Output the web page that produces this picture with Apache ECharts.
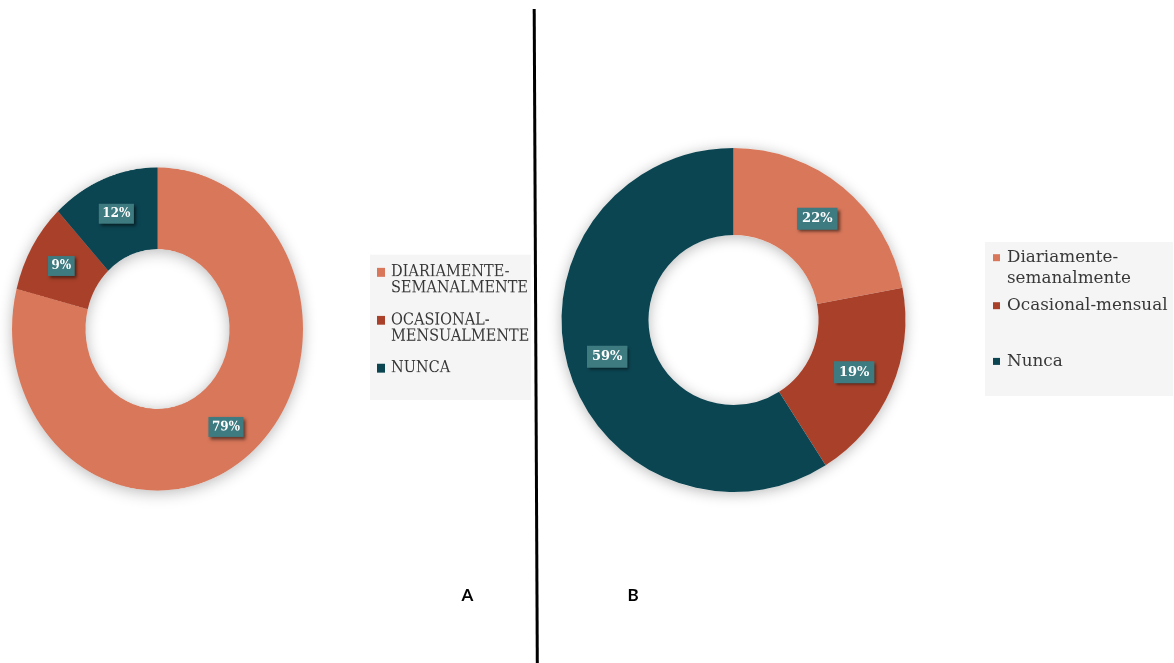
<!DOCTYPE html>
<html>
<head>
<meta charset="utf-8">
<script src="https://cdn.jsdelivr.net/npm/echarts@6/dist/echarts.min.js"></script>
<style>
  html, body { margin: 0; padding: 0; width: 1174px; height: 663px; overflow: hidden; background: #ffffff; }
  /* panel A is drawn slightly taller than wide, as in the printed figure */
  #chartA { position: absolute; left: 0; top: 0; width: 1174px; height: 663px; transform: scaleY(1.11); transform-origin: 0 329px; }
  #chartB { position: absolute; left: 0; top: 0; width: 1174px; height: 663px; }
</style>
</head>
<body>
<div id="chartA"></div>
<div id="chartB"></div>
<script>
// Panel A: frequency shares, upper-case categories
const categoriesA = ['DIARIAMENTE-\nSEMANALMENTE', 'OCASIONAL-\nMENSUALMENTE', 'NUNCA'];
const valuesA = [79, 9, 12];

// Panel B: frequency shares, sentence-case categories
const categoriesB = ['Diariamente-\nsemanalmente', 'Ocasional-mensual', 'Nunca'];
const valuesB = [22, 19, 59];

const panelLabels = ['A', 'B'];

const palette = ['#d8775a', '#a9412a', '#0c4552'];
const labelBox = '#3e7b81';
const legendText = '#383838';

// One legend per entry so every entry sits on its own row; the marker is
// aligned with the first line of a wrapped name.
function legendEntry(name, left, top, square, width, lineH, fontSize) {
  const lines = name.split('\n').length;
  const h = lines > 1 ? lineH + square : square;
  return {
    data: [name],
    left: left,
    top: top,
    orient: 'vertical',
    padding: 0,
    selectedMode: false,
    itemWidth: width,
    itemHeight: h,
    icon: 'path://M0 0H' + square + 'V' + square + 'H0Z M' + width + ' ' + h,
    itemStyle: { shadowBlur: 0, borderWidth: 0 },
    textStyle: {
      fontFamily: 'DejaVu Serif',
      fontSize: fontSize,
      lineHeight: lineH,
      color: legendText
    }
  };
}

function shadowRing(center, radius) {
  return {
    type: 'pie',
    z: 1,
    silent: true,
    center: center,
    radius: radius,
    data: [{ value: 1 }],
    itemStyle: { color: '#ffffff', shadowBlur: 14, shadowColor: 'rgba(0,0,0,0.28)', shadowOffsetY: 2 },
    label: { show: false },
    labelLine: { show: false },
    emphasis: { disabled: true },
    tooltip: { show: false }
  };
}

function donut(names, values, center, radius, font, pad) {
  return {
    type: 'pie',
    z: 2,
    center: center,
    radius: radius,
    startAngle: 90,
    clockwise: true,
    avoidLabelOverlap: false,
    data: names.map((n, i) => ({ name: n, value: values[i] })),
    itemStyle: { borderWidth: 0 },
    label: {
      show: true,
      position: 'inside',
      formatter: '{c}%',
      color: '#ffffff',
      fontFamily: 'DejaVu Serif',
      fontWeight: 'bold',
      fontSize: font,
      lineHeight: font + 2,
      backgroundColor: labelBox,
      padding: pad,
      shadowColor: 'rgba(0,0,0,0.55)',
      shadowBlur: 3,
      shadowOffsetX: 2,
      shadowOffsetY: 2
    },
    labelLine: { show: false },
    emphasis: { disabled: true }
  };
}

const chartA = echarts.init(document.getElementById('chartA'), null, { devicePixelRatio: 2 });
chartA.setOption({
  animation: false,
  color: palette,
  backgroundColor: '#ffffff',
  graphic: [
    { type: 'rect', z: 0, shape: { x: 370, y: 262, width: 161, height: 131 }, style: { fill: '#f5f5f5' } }
  ],
  legend: [
    legendEntry(categoriesA[0], 377, 270.4, 8, 9, 14.5, 14.5),
    legendEntry(categoriesA[1], 377, 313.6, 8, 9, 14.5, 14.5),
    legendEntry(categoriesA[2], 377, 356.8, 8, 9, 14.5, 14.5)
  ],
  series: [
    shadowRing([157.5, 329], [72, 145.5]),
    donut(categoriesA, valuesA, [157.5, 329], [72, 145.5], 12, [2, 3.5])
  ]
});

const chartB = echarts.init(document.getElementById('chartB'));
chartB.setOption({
  animation: false,
  color: palette,
  graphic: [
    { type: 'rect', z: 0, shape: { x: 985, y: 242, width: 188, height: 154 }, style: { fill: '#f5f5f5' } },
    { type: 'line', z: 10, shape: { x1: 534.2, y1: 9, x2: 537.3, y2: 663 }, style: { stroke: '#000000', lineWidth: 3 } },
    { type: 'text', z: 10, style: { text: panelLabels[0], x: 467.5, y: 595.5, align: 'center', verticalAlign: 'middle', textAlign: 'center', textVerticalAlign: 'middle', font: 'bold 17px Lato', fill: '#000000' } },
    { type: 'text', z: 10, style: { text: panelLabels[1], x: 633, y: 595.5, align: 'center', verticalAlign: 'middle', textAlign: 'center', textVerticalAlign: 'middle', font: 'bold 17px Lato', fill: '#000000' } }
  ],
  legend: [
    legendEntry(categoriesB[0], 993, 247.2, 7, 9, 21, 16.8),
    legendEntry(categoriesB[1], 993, 295.2, 7, 9, 21, 16.8),
    legendEntry(categoriesB[2], 993, 350.9, 7, 9, 21, 16.8)
  ],
  series: [
    shadowRing([733.5, 320], [85, 172]),
    donut(categoriesB, valuesB, [733.5, 320], [85, 172], 13, [3.5, 5])
  ]
});
</script>
</body>
</html>
